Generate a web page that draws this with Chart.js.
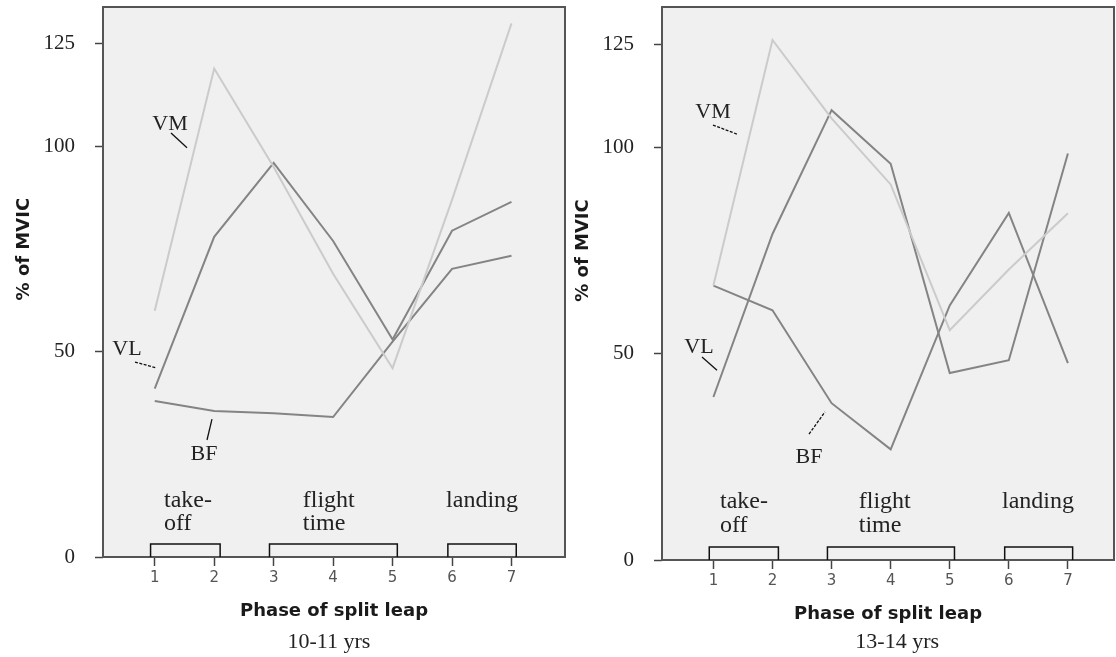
<!DOCTYPE html>
<html>
<head>
<meta charset="utf-8">
<script src="https://cdn.jsdelivr.net/npm/chart.js@4.4.1/dist/chart.umd.min.js"></script>
<style>
  html, body { margin: 0; padding: 0; background: #fff; }
  #wrap { position: relative; width: 1116px; height: 657px; overflow: hidden; }
  .box { position: absolute; top: 0; height: 657px; }
  #boxLeft { left: 0; width: 570px; }
  #boxRight { left: 556px; width: 560px; }
</style>
</head>
<body>
<div id="wrap">
  <div class="box" id="boxLeft"><canvas id="chartLeft"></canvas></div>
  <div class="box" id="boxRight"><canvas id="chartRight"></canvas></div>
</div>
<script>
// Fases del salto y marcas del eje
const phases = [1, 2, 3, 4, 5, 6, 7];
const yTicks = [0, 50, 100, 125];

// 10-11 años (% of MVIC)
const vmYoung = [60, 119, 95, 69, 46, 87, 130];
const vlYoung = [41, 78, 96, 77, 53, 79.5, 86.5];
const bfYoung = [38, 35.6, 35, 34.1, 52.5, 70.2, 73.4];

// 13-14 años (% of MVIC)
const vmOld = [66.5, 126, 107, 91, 55.7, 70.4, 84];
const vlOld = [39.5, 79, 109, 96, 45.3, 48.4, 98.5];
const bfOld = [66.5, 60.5, 38, 26.8, 61.7, 84.1, 47.7];

// Grupos de fases
const phaseNames = [['take-', 'off'], ['flight', 'time'], ['landing']];
const phaseSpans = [[0.93, 2.1], [2.93, 5.08], [5.93, 7.08]];

const SERIF = '"Liberation Serif", "DejaVu Serif", serif';
const SANS = '"DejaVu Sans", sans-serif';

const decorPlugin = {
    id: 'decor',
    beforeDraw(chart) {
        const { ctx, chartArea: a } = chart;
        ctx.save();
        ctx.fillStyle = '#f0f0f0';
        ctx.fillRect(a.left, a.top, a.right - a.left, a.bottom - a.top);
        ctx.restore();
    },
    afterDraw(chart, args, cfg) {
        const { ctx, chartArea: a } = chart;
        const sx = v => chart.scales.x.getPixelForValue(v);
        const sy = v => chart.scales.y.getPixelForValue(v);
        ctx.save();

        // marco
        ctx.strokeStyle = '#555';
        ctx.lineWidth = 2;
        ctx.strokeRect(a.left, a.top, a.right - a.left, a.bottom - a.top);

        // corchetes de fases
        ctx.strokeStyle = '#111';
        ctx.lineWidth = 1.5;
        phaseSpans.forEach(([s, e]) => {
            const y0 = sy(0);
            ctx.beginPath();
            ctx.moveTo(sx(s), y0);
            ctx.lineTo(sx(s), y0 - 13);
            ctx.lineTo(sx(e), y0 - 13);
            ctx.lineTo(sx(e), y0);
            ctx.stroke();
        });

        // nombres de fases
        ctx.fillStyle = '#222';
        ctx.font = '24px ' + SERIF;
        ctx.textAlign = 'left';
        ctx.textBaseline = 'alphabetic';
        phaseNames.forEach((lines, i) => {
            lines.forEach((txt, j) => {
                ctx.fillText(txt, sx(cfg.phaseX[i]), sy(cfg.phaseRows[j]));
            });
        });

        // etiquetas de músculos
        ctx.font = '22px ' + SERIF;
        ctx.textAlign = 'center';
        cfg.muscles.forEach(m => {
            ctx.fillStyle = '#222';
            ctx.fillText(m.text, sx(m.x), sy(m.y));
            ctx.strokeStyle = '#111';
            ctx.lineWidth = 1.3;
            ctx.setLineDash(m.dash ? [3, 1.5] : []);
            ctx.beginPath();
            ctx.moveTo(sx(m.lead[0]), sy(m.lead[1]));
            ctx.lineTo(sx(m.lead[2]), sy(m.lead[3]));
            ctx.stroke();
        });
        ctx.setLineDash([]);

        // título del eje Y
        ctx.save();
        ctx.translate(a.left - 79, sy(75));
        ctx.rotate(-Math.PI / 2);
        ctx.fillStyle = '#1a1a1a';
        ctx.font = 'bold 18px ' + SANS;
        ctx.textAlign = 'center';
        ctx.textBaseline = 'middle';
        ctx.fillText('% of MVIC', 0, 0);
        ctx.restore();

        // grupo de edad
        ctx.fillStyle = '#222';
        ctx.font = '22px ' + SERIF;
        ctx.textAlign = 'center';
        ctx.textBaseline = 'alphabetic';
        ctx.fillText(cfg.group, sx(cfg.groupX), sy(cfg.groupY));

        ctx.restore();
    }
};

const makeChart = (id, series, cfg) => {
    const pts = vals => phases.map((p, i) => ({ x: p, y: vals[i] }));
    return new Chart(document.getElementById(id), {
        type: 'line',
        data: {
            datasets: [
                { label: 'VM', data: pts(series[0]), borderColor: '#cbcbcb', borderWidth: 2 },
                { label: 'VL', data: pts(series[1]), borderColor: '#848484', borderWidth: 2 },
                { label: 'BF', data: pts(series[2]), borderColor: '#848484', borderWidth: 2 }
            ]
        },
        options: {
            responsive: true,
            maintainAspectRatio: false,
            animation: false,
            elements: { point: { radius: 0 }, line: { tension: 0 } },
            layout: { padding: cfg.padding },
            plugins: {
                legend: { display: false },
                tooltip: { enabled: false },
                decor: cfg
            },
            scales: {
                x: {
                    type: 'linear',
                    min: 0.13,
                    max: cfg.xMax,
                    afterBuildTicks: s => { s.ticks = phases.map(v => ({ value: v })); },
                    afterFit: s => {
                        s.height = 72;
                        s.paddingLeft = 0;
                        s.paddingRight = 0;
                    },
                    grid: { drawOnChartArea: false, tickLength: 9, tickColor: '#444', tickWidth: 1.5 },
                    border: { display: false },
                    ticks: { autoSkip: false, maxRotation: 0, padding: 3, color: '#555', font: { family: SANS, size: 15 } },
                    title: {
                        display: true,
                        text: 'Phase of split leap',
                        color: '#1a1a1a',
                        font: { family: SANS, size: 18, weight: 'bold' },
                        padding: { top: 0, bottom: 7 }
                    }
                },
                y: {
                    min: 0,
                    max: 134,
                    afterBuildTicks: s => { s.ticks = yTicks.map(v => ({ value: v })); },
                    afterFit: s => {
                        s.width = cfg.yWidth;
                        s.paddingTop = 0;
                        s.paddingBottom = 0;
                    },
                    grid: { drawOnChartArea: false, tickLength: 8, tickColor: '#444', tickWidth: 1.5 },
                    border: { display: false },
                    ticks: { autoSkip: false, padding: 20, color: '#222', font: { family: SERIF, size: 21 } }
                }
            }
        },
        plugins: [decorPlugin]
    });
};

makeChart('chartLeft', [vmYoung, vlYoung, bfYoung], {
    padding: { top: 7, right: 5, bottom: 28, left: 0 },
    yWidth: 103,
    xMax: 7.9,
    phaseX: [1.156, 3.49, 5.9],
    phaseRows: [12.2, 6.6],
    group: '10-11 yrs',
    groupX: 3.93,
    groupY: -22.2,
    muscles: [
        { text: 'VM', x: 1.257, y: 104.0, lead: [1.274, 103.3, 1.543, 99.7], dash: false },
        { text: 'VL', x: 0.534, y: 49.2, lead: [0.668, 47.5, 1.021, 46.1], dash: true },
        { text: 'BF', x: 1.829, y: 23.6, lead: [1.963, 33.6, 1.879, 28.5], dash: false }
    ]
});

makeChart('chartRight', [vmOld, vlOld, bfOld], {
    padding: { top: 7, right: 2, bottom: 25, left: 0 },
    yWidth: 106,
    xMax: 7.78,
    phaseX: [1.112, 3.46, 5.885],
    phaseRows: [12.6, 6.8],
    group: '13-14 yrs',
    groupX: 4.11,
    groupY: -21.3,
    muscles: [
        { text: 'VM', x: 0.993, y: 107.1, lead: [0.993, 105.4, 1.399, 103.2], dash: true },
        { text: 'VL', x: 0.756, y: 50.2, lead: [0.807, 49.2, 1.061, 46.0], dash: false },
        { text: 'BF', x: 2.618, y: 23.5, lead: [2.618, 30.5, 2.889, 35.9], dash: true }
    ]
});
</script>
</body>
</html>
